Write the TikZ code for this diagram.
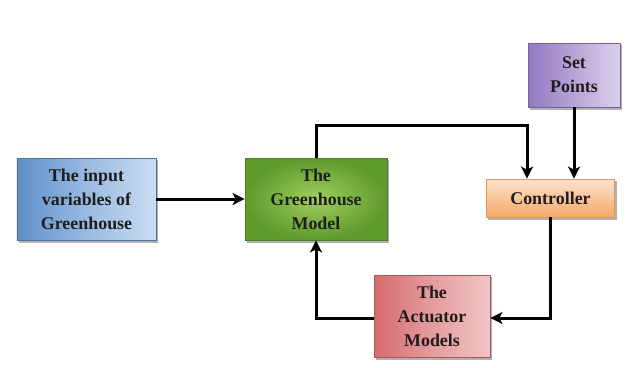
\documentclass[tikz,border=0pt]{standalone}
\usepackage{fontspec}
\setmainfont{Liberation Serif}
\usetikzlibrary{arrows.meta,backgrounds}
\definecolor{bluD}{HTML}{5F8FCB}
\definecolor{bluL}{HTML}{C9DDF2}
\definecolor{grnD}{HTML}{5E9A2C}
\definecolor{grnL}{HTML}{A0CF5C}
\definecolor{purD}{HTML}{9479C2}
\definecolor{purL}{HTML}{DCD0EC}
\definecolor{orD}{HTML}{F5A866}
\definecolor{orL}{HTML}{FDE3CF}
\definecolor{redD}{HTML}{D56B6E}
\definecolor{redL}{HTML}{F2C4C4}
\definecolor{txt}{HTML}{1E1E1E}
\begin{document}
\begin{tikzpicture}[x=1bp,y=-1bp,
  blk/.style={font=\bfseries\fontsize{18}{24}\selectfont, text=txt, align=center, inner sep=0pt, line width=0.8bp},
  shad/.style={fill=black!30},
  conn/.style={line width=3bp, -{Stealth[length=12bp,width=12bp,inset=3bp]}}]
\useasboundingbox (0,0) rectangle (627,367);
\node[blk, draw=bluD!80!black, minimum width=139bp, minimum height=82bp, left color=bluD, right color=bluL,
  middle color=bluD!45!bluL] (inp) at (86.5,199) {The input\\variables of\\Greenhouse};
\node[blk, draw=grnD!80!black, minimum width=142bp, minimum height=82bp, outer color=grnD, inner color=grnL] (gh) at (316,199) {The\\Greenhouse\\Model};
\node[blk, draw=purD!80!black, minimum width=92bp, minimum height=64bp, left color=purD, right color=purL] (sp) at (574,75) {Set\\Points};
\node[blk, draw=orD!90!black, minimum width=128bp, minimum height=38bp, top color=orL, bottom color=orD] (ctl) at (550.5,198) {Controller};
\node[blk, draw=redD!80!black, minimum width=116bp, minimum height=82bp, left color=redD, right color=redL,
  middle color=redD!45!redL] (act) at (432,316) {The\\Actuator\\Models};
\begin{scope}[on background layer]
\fill[white] (0,0) rectangle (627,367);
\foreach \n in {inp,gh,sp,ctl,act}
  \fill[shad] ([shift={(2,2.5)}]\n.north west) rectangle ([shift={(2,2.5)}]\n.south east);
\end{scope}
\coordinate (c1) at (316,125);
\coordinate (c2) at (527,125);
\coordinate (c3) at (550,318);
\coordinate (c4) at (316,318);
\draw[conn] (inp.east) -- (gh.west);
\draw[conn] (gh.north) -- (c1) -- (c2) -- (c2 |- ctl.north);
\draw[conn] (sp.south) -- (ctl.north -| sp.south);
\draw[conn] (ctl.south -| c3) -- (c3) -- (act.east |- c3);
\draw[conn] (act.west |- c4) -- (c4) -- (gh.south);
\end{tikzpicture}
\end{document}
